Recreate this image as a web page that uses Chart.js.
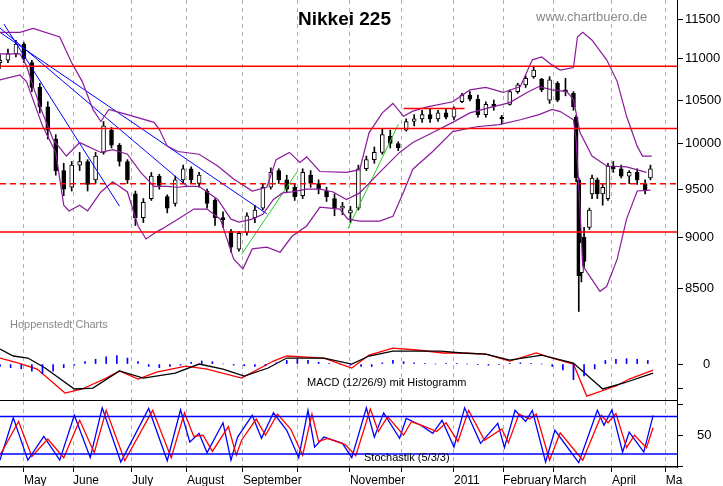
<!DOCTYPE html>
<html><head><meta charset="utf-8">
<script src="https://cdn.jsdelivr.net/npm/chart.js@4/dist/chart.umd.min.js"></script>
<style>
body{margin:0;background:#fff;width:723px;height:486px;overflow:hidden;font-family:"Liberation Sans",Arial,sans-serif}
canvas{position:absolute;left:0}
.t{position:absolute;white-space:nowrap}
</style></head><body>
<canvas id="main" width="723" height="341" style="top:0"></canvas>
<canvas id="macd" width="723" height="60" style="top:341px"></canvas>
<canvas id="stoch" width="723" height="85" style="top:401px"></canvas>
<div class="t" style="left:298px;top:8px;font-size:19px;font-weight:bold">Nikkei 225</div>
<div class="t" style="left:536px;top:9px;font-size:13px;color:#888">www.chartbuero.de</div>
<div class="t" style="left:10px;top:318px;font-size:11px;color:#888">Hoppenstedt Charts</div>
<div class="t" style="left:307px;top:376px;font-size:11px">MACD (12/26/9) mit Histogramm</div>
<div class="t" style="left:364px;top:451px;font-size:11px">Stochastik (5/3/3)</div>
<script>
// time axis: trading-day index
const monthDays=[9,27.5,49.7,70.4,91.5,112.2,131.8,151.4,171,189.5,208.3,230.5,250.8];
const monthLabels=['May','June','July','August','September','','November','','2011','February','March','April','Ma'];
const priceTicks=[8500,9000,9500,10000,10500,11000,11500];

const candleDay=[0,3,6,9,12,15,18,21,24,27,30,33,36,39,42,45,48,51,54,57,60,63,66,69,72,75,78,81,84,87,90,93,96,99,102,105,108,111,114,117,120,123,126,129,132,135,138,141,144,147,150,153,156,159,162,165,168,171,174,177,180,183,186,189,192,195,198,201,204,207,210,213,216,217,218,219,220,222,223,225,227,229,231,234,237,240,243,245];
const candleOpen=[10950,10980,11060,11180,10950,10650,10420,10050,9700,9520,9760,9800,9600,9900,10150,9980,9800,9450,9200,9400,9640,9420,9350,9600,9720,9560,9480,9380,9200,9060,8880,9050,9200,9300,9520,9700,9600,9520,9430,9650,9560,9480,9400,9300,9250,9300,9720,9820,9900,10080,10000,10150,10250,10280,10330,10280,10350,10300,10480,10560,10510,10330,10450,10300,10450,10600,10680,10780,10750,10500,10700,10620,10580,10300,9600,8650,9000,9100,9450,9600,9450,9400,9750,9720,9640,9680,9560,9620];
const candleHigh=[11050,11120,11230,11200,10980,10700,10480,10100,9780,9800,9900,9820,9900,10250,10180,10000,9820,9480,9400,9680,9660,9440,9640,9760,9740,9680,9500,9400,9260,9080,9060,9250,9330,9560,9730,9720,9650,9560,9720,9700,9600,9520,9450,9360,9320,9760,9860,9960,10160,10150,10020,10280,10330,10380,10390,10380,10400,10420,10580,10600,10560,10480,10500,10320,10620,10700,10790,10900,10760,10780,10720,10760,10600,10320,9620,9000,9100,9300,9650,9620,9560,9780,9800,9760,9700,9720,9600,9760];
const candleLow=[10880,10950,11020,10950,10600,10350,10050,9650,9430,9480,9700,9480,9560,9880,9950,9750,9560,9120,9150,9380,9500,9250,9320,9560,9560,9520,9300,9120,9100,8850,8860,9020,9150,9280,9500,9560,9470,9380,9400,9520,9450,9370,9220,9230,9150,9280,9700,9780,9880,9950,9920,10140,10200,10240,10240,10250,10280,10270,10470,10490,10300,10300,10380,10220,10440,10580,10650,10760,10600,10460,10480,10550,10380,9580,8280,8560,8700,9080,9400,9400,9330,9380,9680,9620,9560,9550,9450,9600];
const candleClose=[10980,11060,11180,11000,10650,10420,10150,9700,9500,9760,9800,9550,9860,10200,9980,9800,9600,9200,9360,9640,9540,9300,9600,9720,9600,9650,9350,9200,9180,8900,9040,9220,9280,9520,9680,9600,9500,9420,9680,9560,9500,9420,9300,9320,9280,9720,9820,9900,10100,10000,9950,10250,10280,10330,10280,10350,10300,10400,10560,10510,10330,10450,10420,10280,10600,10680,10760,10860,10620,10740,10500,10600,10420,9620,8620,8950,8760,9280,9620,9450,9520,9750,9720,9640,9680,9600,9480,9720];

const upperDay=[0,7.5,12.5,22.5,27,31,35,38,41,48,58,60,63,67,75,82,88,95,100.5,104,109,113,115.5,120.5,130.5,135.5,139,144,148,152,155.5,161,170.5,177,183,189.5,196,200.5,204,208,211,216,217.5,219.5,223,228.5,232.5,236,240,242,245.5];
const upperVal=[11330,11330,11380,11270,10950,10720,10390,10250,10390,10330,10240,10160,9970,9910,9880,9750,9610,9480,9520,9820,9900,9790,9850,9690,9680,9710,10120,10350,10460,10310,10370,10420,10480,10620,10650,10590,10660,10985,11020,10920,10860,10890,11270,11330,11230,10985,10720,10310,9970,9860,9860];
const midDay=[0,7.5,10,12.5,16,20,25,30,38,42.5,48,53,58,63,67,70,75,82,87,90,95,99,103,106.5,110,115.5,120.5,125.5,130.5,135.5,143,150.5,155.5,163,170.5,177,185.5,192,198.5,203,208,213.5,216,218.5,223,228.5,236,243.5];
const midVal=[11060,11060,10910,10660,10350,10045,9860,10010,9900,9930,9880,9680,9530,9530,9520,9530,9530,9390,9185,9155,9185,9235,9390,9460,9470,9500,9500,9470,9390,9460,9680,9900,10010,10125,10240,10350,10420,10470,10590,10660,10620,10600,10505,10120,9860,9750,9740,9680];
const lowerDay=[0,7.5,10,16,21,24,26,30,33,38,42.5,48,52,55,59,61,67,73,78,83,88,91.5,95,100.5,105.5,110,115.5,120.5,128,131,135.5,143,148,152,155.5,163,170.5,179.5,188,196,203,208,211,216,217,218.5,219.5,226,228.5,232.5,236,240,245];
const lowerVal=[10740,10800,10720,10200,9900,9330,9270,9330,9270,9470,9580,9470,9115,8983,9055,9085,9185,9290,9290,9185,8784,8686,8883,8900,8850,9010,9115,9310,9290,9185,9165,9165,9215,9470,9715,9910,10135,10190,10215,10270,10330,10390,10365,10270,10045,9270,8715,8470,8515,8784,9185,9480,9490];

const blueLine1=[[1.5,11435],[45,9320]];
const blueLine2=[[0,11385],[70.5,9530]];
const blueLine3=[[0,11330],[100.5,9240]];
const greenLine1=[[91,8830],[112,9690]];
const greenLine2=[[131,9085],[150,10215]];
const redShort=[[152,10400],[175,10400]];
const redLevels=[10906,10169,9053];
const dashedLevel=9557;

const macdDay=[0,7,14,24.5,31,40,45,52,59,70,78,91,103,108,122,132.5,139,148,157,167,174,183,192,202,209,216,221,232,237,246];
const macdVal=[50,8,-42,-242,-208,-117,-58,-125,-67,-17,-42,-117,25,67,50,-33,75,133,117,92,92,83,25,92,42,0,-267,-183,-125,-50];
const signalDay=[0,5,10.5,17,28,35,45,54,66,75,84,92,101,108,122,132.5,139,148,166,174,183,192,204,216,227,235,246];
const signalVal=[125,67,50,-33,-208,-200,-58,-117,-75,0,-42,-100,-33,50,50,0,67,108,108,92,83,33,75,8,-208,-158,-75];
const histDay=[0,4,8,12,16,20,24,28,32,36,40,44,48,52,56,60,64,68,72,76,80,84,88,92,96,100,104,108,112,116,120,124,128,132,136,140,144,148,152,156,160,164,168,172,176,180,184,188,192,196,200,204,208,212,216,220,224,228,232,236,240,244];
const histVal=[-20,-30,-40,-60,-80,-60,-30,-10,20,40,60,70,50,20,-20,-30,-20,-10,15,25,20,0,-10,-15,-20,-15,10,30,40,30,15,5,0,-10,-20,-20,10,30,20,10,5,0,5,5,0,-5,-10,-5,5,10,5,0,-20,-50,-130,-100,-40,30,40,45,40,30];

const kDay=[0,5,10.5,16.5,22.5,28,34,38.5,45.5,56,63,68,71.5,75,78,84,87,89.5,95,98.5,103,108,112.5,116,118.5,122,129,132.5,138,141,144.5,150.5,153,158.5,163,166.5,171,175,181,187.5,190,194,198,200.5,205.5,209,218,225,227.5,230.5,234.5,237,242.5,246];
const kVal=[10,78,10,48,10,82,14,94,7,93,9,91,39,53,22,70,10,47,82,45,86,58,14,90,31,47,37,14,94,47,86,45,77,66,53,74,31,94,37,69,30,90,72,90,7,58,6,90,66,91,23,55,23,82];
const dDay=[0,7,12,18,24,30,35.5,40,47,57.5,64.5,69.5,73,76.5,80,86,89,91,96.5,100,104.5,109.5,114,117.5,120,123.5,130,134,139.5,142.5,146,152,155,160,164.5,168,172.5,176.5,182.5,189,191.5,195.5,199.5,202,207,211,219.5,226.5,229,232,236,239,243.5,246];
const dVal=[18,72,16,44,14,74,22,90,9,90,14,86,48,50,24,64,18,42,76,50,84,60,18,84,40,45,35,17,92,56,80,50,72,64,56,70,40,90,42,60,38,84,76,84,10,54,10,82,70,85,30,50,30,62];
const stochLevels=[80,20];

const XMAX=255, AXW=46;
const pts=(xs,ys)=>xs.map((x,i)=>({x,y:ys[i]}));
const seg=(a)=>a.map(p=>({x:p[0],y:p[1]}));
const hline=(v)=>[{x:0,y:v},{x:XMAX,y:v}];
const ln=(data,color,extra)=>Object.assign({type:'line',data,borderColor:color,borderWidth:1,pointRadius:0,tension:0,fill:false},extra||{});
const font={family:'"Liberation Sans",Arial,sans-serif',size:13};

function xScale(showLabels,borderShow){
  return {type:'linear',min:0,max:XMAX,offset:false,
    afterBuildTicks:s=>{s.ticks=monthDays.map(v=>({value:v}));},
    afterFit:s=>{s.height=showLabels?19:0;s.paddingLeft=0;s.paddingRight=0;},
    grid:{offset:false,color:'#b0b0b0',lineWidth:1,drawTicks:showLabels,tickLength:5,tickColor:'#000'},
    border:{display:showLabels||borderShow,color:'#000',width:1.5,dash:[4,4]},
    ticks:{display:showLabels,autoSkip:false,maxRotation:0,align:'start',padding:1,color:'#000',
      font:{family:font.family,size:12},callback:(v,i)=>monthLabels[i]}};
}
function zeroPad(s){s.paddingTop=0;s.paddingBottom=0;}
function yScale(o){
  return Object.assign({position:'right',
    afterFit:s=>{s.width=AXW;zeroPad(s);},
    afterUpdate:s=>{zeroPad(s);s.configure();},
    grid:{drawOnChartArea:false,drawTicks:true,tickLength:6,color:'#000'},
    border:{display:true,color:'#000'}},o);
}
const base={animation:false,responsive:false,devicePixelRatio:1,
  layout:{padding:0,autoPadding:false},plugins:{legend:{display:false},tooltip:{enabled:false}}};

new Chart(document.getElementById('main'),{type:'bar',
  data:{datasets:[
    ...redLevels.map(v=>ln(hline(v),'#ff0000',{borderWidth:1.5})),
    ln(hline(dashedLevel),'#ff0000',{borderWidth:1.5,borderDash:[6,4]}),
    ln(seg(redShort),'#ff0000',{borderWidth:1.5}),
    ln(pts(upperDay,upperVal),'#8b1a9b',{borderWidth:1.2}),
    ln(pts(midDay,midVal),'#8b1a9b',{borderWidth:1.2}),
    ln(pts(lowerDay,lowerVal),'#8b1a9b',{borderWidth:1.2}),
    ln(seg(blueLine1),'#0000ff'),ln(seg(blueLine2),'#0000ff'),ln(seg(blueLine3),'#0000ff'),
    ln(seg(greenLine1),'#22cc22'),ln(seg(greenLine2),'#22cc22'),
    {type:'bar',grouped:false,order:2,data:candleDay.map((d,i)=>({x:d,y:[candleLow[i],candleHigh[i]]})),
     backgroundColor:'#000',barThickness:1},
    {type:'bar',grouped:false,order:1,data:candleDay.map((d,i)=>({x:d,y:[candleOpen[i],candleClose[i]]})),
     backgroundColor:candleDay.map((d,i)=>candleClose[i]>=candleOpen[i]?'#fff':'#000'),
     borderColor:'#000',borderWidth:1,borderSkipped:false,barThickness:4}
  ]},
  options:Object.assign({},base,{scales:{x:xScale(false,false),
    y:yScale({type:'logarithmic',min:8010,max:11749,
      afterBuildTicks:s=>{s.ticks=priceTicks.map(v=>({value:v}));},
      ticks:{color:'#000',font,padding:2,callback:v=>String(v)}})}})
});

new Chart(document.getElementById('macd'),{type:'bar',
  data:{datasets:[
    {type:'bar',grouped:false,data:pts(histDay,histVal),backgroundColor:'#0000ff',barThickness:1},
    ln(pts(signalDay,signalVal),'#000',{borderWidth:1.3}),
    ln(pts(macdDay,macdVal),'#ff0000',{borderWidth:1.3})
  ]},
  options:Object.assign({},base,{scales:{x:xScale(false,true),
    y:yScale({type:'linear',min:-308,max:192,
      afterBuildTicks:s=>{s.ticks=[-200,0].map(v=>({value:v}));},
      ticks:{color:'#000',font,padding:20,callback:v=>v===0?'0':''}})}})
});

new Chart(document.getElementById('stoch'),{type:'line',
  data:{datasets:[
    ...stochLevels.map(v=>ln(hline(v),'#0000ff',{borderWidth:1.5})),
    ln(pts(dDay,dVal),'#ff0000',{borderWidth:1.3}),
    ln(pts(kDay,kVal),'#0000ff',{borderWidth:1.3})
  ]},
  options:Object.assign({},base,{scales:{x:xScale(true,true),
    y:yScale({type:'linear',min:-1,max:105,
      afterBuildTicks:s=>{s.ticks=[0,50,100].map(v=>({value:v}));},
      ticks:{color:'#000',font,padding:14,callback:v=>v===50?'50':''}})}})
});
</script></body></html>
